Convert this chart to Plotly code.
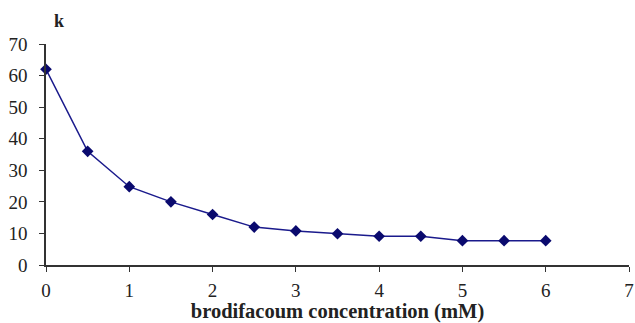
import plotly.graph_objects as go

conc = [0, 0.5, 1, 1.5, 2, 2.5, 3, 3.5, 4, 4.5, 5, 5.5, 6]
k_vals = [62, 36, 24.8, 20, 16, 12, 10.8, 9.9, 9.1, 9.1, 7.7, 7.7, 7.7]
x_ticks = [0, 1, 2, 3, 4, 5, 6, 7]
y_ticks = [0, 10, 20, 30, 40, 50, 60, 70]

fig = go.Figure()
fig.add_trace(go.Scatter(
    x=conc, y=k_vals, mode="lines+markers",
    line=dict(color="#1a1a8c", width=1.5),
    marker=dict(symbol="diamond", size=9, color="#0a0a6e"),
    cliponaxis=False, showlegend=False,
))

font = dict(family="Liberation Serif, Times New Roman, serif", color="#222222")
fig.update_layout(
    width=635, height=323,
    margin=dict(l=46, r=6, t=44, b=58),
    paper_bgcolor="white", plot_bgcolor="white",
    font=dict(**font, size=19),
    xaxis=dict(range=[0, 7], tickvals=x_ticks, ticks="outside", ticklen=5,
               tickcolor="#333", showline=True, linecolor="#333", linewidth=1.5,
               showgrid=False, zeroline=False, ticklabelstandoff=2,
               automargin=False,
               title=dict(text="<b>brodifacoum concentration (mM)</b>",
                          font=dict(size=20.5), standoff=6)),
    yaxis=dict(range=[0, 70], tickvals=y_ticks, ticks="outside", ticklen=5,
               tickcolor="#333", showline=True, linecolor="#333", linewidth=1.5,
               showgrid=False, zeroline=False, ticklabelstandoff=8,
               automargin=False),
    annotations=[dict(text="<b>k</b>", xref="x domain", yref="y domain",
                      x=(59 - 46) / 583, y=1 + (44 - 21) / 221,
                      xanchor="center", yanchor="middle",
                      showarrow=False, font=dict(size=18))],
)
fig.write_html("out.html")
